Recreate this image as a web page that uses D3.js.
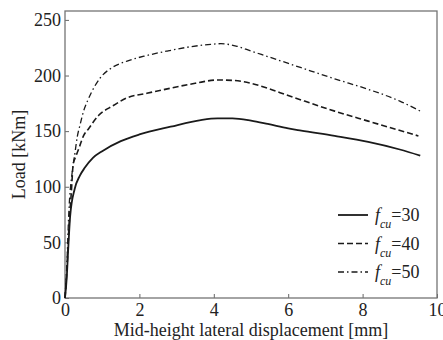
<!DOCTYPE html>
<html>
<head>
<meta charset="utf-8">
<script src="https://cdn.jsdelivr.net/npm/d3@7"></script>
<style>
body { margin: 0; background: #fff; }
text { font-family: "Liberation Serif", "Times New Roman", serif; fill: #222; }
</style>
</head>
<body>
<script>
// displacement [mm] and load [kNm]
var disp30 = [0, 0.05, 0.08, 0.14, 0.26, 0.4, 0.53, 0.75, 1.0, 1.5, 2.0, 2.84, 3.65, 4.1, 4.5, 5.0, 5.45, 6.0, 6.35, 7.25, 8.15, 9.0, 9.55];
var load30 = [0, 20, 40, 74, 98, 110, 117, 126, 132, 141, 147, 154, 160, 161.5, 161.5, 159.5, 156.5, 152.5, 150.5, 145.7, 140.3, 133.5, 128];

var disp40 = [0, 0.05, 0.1, 0.17, 0.22, 0.3, 0.4, 0.5, 0.63, 0.9, 1.3, 1.67, 2.2, 2.75, 3.5, 4.1, 4.55, 5.0, 5.45, 6.0, 6.35, 7.25, 8.15, 9.5];
var load40 = [0, 25, 60, 95, 120, 128, 137, 146, 152, 164, 173, 180, 184, 188, 193, 196, 195.5, 193, 188.5, 182, 178, 168, 159, 145.7];

var disp50 = [0, 0.05, 0.1, 0.2, 0.27, 0.33, 0.4, 0.5, 0.63, 0.95, 1.26, 1.67, 2.2, 2.75, 3.4, 3.92, 4.19, 4.6, 5.0, 5.5, 6.35, 7.25, 8.15, 9.0, 9.55];
var load50 = [0, 30, 75, 115, 131, 145, 155, 168, 179, 198, 207, 213, 218, 222, 226, 228, 228.6, 226.5, 222, 216.5, 207, 197, 187.6, 177, 168];

var seriesNames = ["30", "40", "50"];
var xTicks = [0, 2, 4, 6, 8, 10];
var yTicks = [0, 50, 100, 150, 200, 250];

var margin = {
        top: 11,
        right: 6,
        bottom: 42,
        left: 65
    },
    width = 443 - margin.left - margin.right,
    height = 340 - margin.top - margin.bottom;

var svg = d3.select("body").append("svg")
    .attr("width", 443)
    .attr("height", 340)
    .append("g")
    .attr("transform", "translate(" + margin.left + "," + margin.top + ")");

var x = d3.scaleLinear()
    .domain([0, 10])
    .range([0, width]);

var y = d3.scaleLinear()
    .domain([0, 258])
    .range([height, 0]);

var xAxis = svg.append("g")
    .attr("transform", "translate(0," + height + ")")
    .call(d3.axisBottom(x).tickValues(xTicks).tickSizeInner(-4).tickSizeOuter(0).tickPadding(5));

var yAxis = svg.append("g")
    .call(d3.axisLeft(y).tickValues(yTicks).tickSizeInner(-4).tickSizeOuter(0).tickPadding(4));

[xAxis, yAxis].forEach(function (a) {
    a.select(".domain").remove();
    a.selectAll("line").attr("stroke", "#666");
    a.selectAll("text")
        .style("font-size", "18px")
        .attr("fill", "#222");
});

// frame
svg.append("rect")
    .attr("width", width)
    .attr("height", height)
    .attr("fill", "none")
    .attr("stroke", "#747474")
    .attr("stroke-width", 1.3);

var series = [
    { name: "30", xs: disp30, ys: load30, dash: null, w: 1.8 },
    { name: "40", xs: disp40, ys: load40, dash: "6,3", w: 1.6 },
    { name: "50", xs: disp50, ys: load50, dash: "6,3,1.5,3", w: 1.3 }
];

var line = d3.line()
    .x(function (d) { return x(d[0]); })
    .y(function (d) { return y(d[1]); })
    .curve(d3.curveMonotoneX);

series.forEach(function (s) {
    svg.append("path")
        .datum(d3.zip(s.xs, s.ys))
        .attr("fill", "none")
        .attr("stroke", "#1a1a1a")
        .attr("stroke-width", s.w)
        .attr("stroke-dasharray", s.dash)
        .attr("d", line);
});

// legend
var legend = svg.append("g")
    .attr("transform", "translate(" + (338 - margin.left) + "," + (215 - margin.top) + ")");

series.forEach(function (s, i) {
    var row = legend.append("g").attr("transform", "translate(0," + (i * 28.5) + ")");
    row.append("line")
        .attr("x1", 0).attr("x2", 30)
        .attr("stroke", "#1a1a1a")
        .attr("stroke-width", s.w)
        .attr("stroke-dasharray", s.dash);
    var t = row.append("text")
        .attr("x", 37)
        .attr("y", 6)
        .style("font-size", "18px");
    t.append("tspan").attr("font-style", "italic").text("f");
    t.append("tspan").attr("font-style", "italic").attr("dy", 7).style("font-size", "12px").text("cu");
    t.append("tspan").attr("dy", -7).text("=" + seriesNames[i]);
});

// axis titles
svg.append("text")
    .attr("x", width / 2)
    .attr("y", height + 38)
    .attr("text-anchor", "middle")
    .style("font-size", "18px")
    .text("Mid-height lateral displacement [mm]");

svg.append("text")
    .attr("transform", "translate(" + (25 - margin.left) + "," + (height / 2) + ") rotate(-90)")
    .attr("text-anchor", "middle")
    .style("font-size", "18px")
    .text("Load [kNm]");
</script>
</body>
</html>
